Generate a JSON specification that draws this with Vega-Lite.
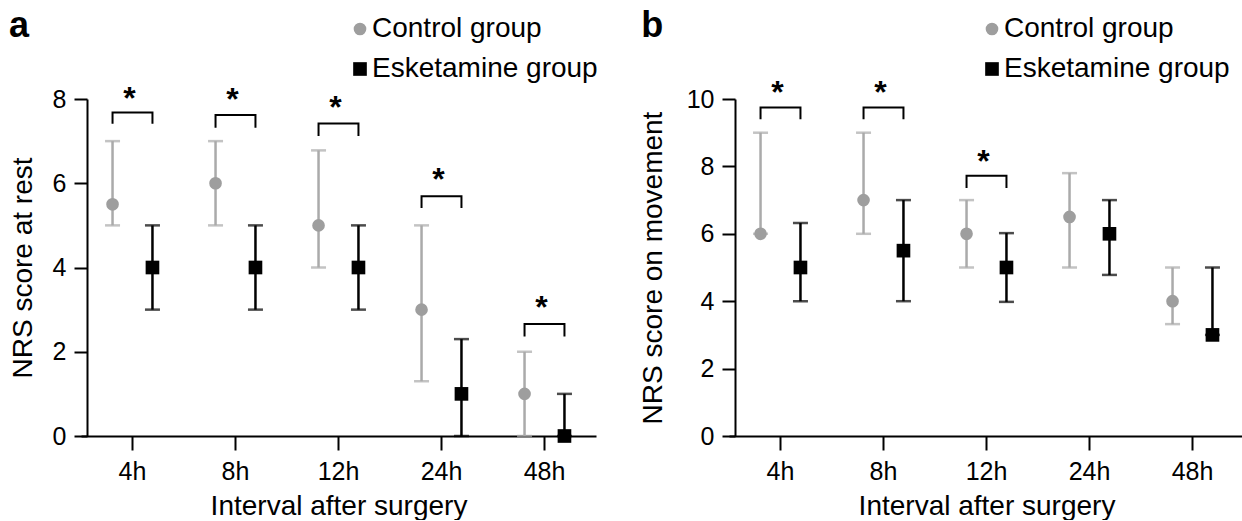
{
  "$schema": "https://vega.github.io/schema/vega-lite/v6.json",
  "background": "white",
  "padding": {"left": 9, "top": 8, "right": 0, "bottom": 0},
  "config": {
    "font": "Liberation Sans",
    "view": {"stroke": null},
    "axis": {"domainColor": "black", "tickColor": "black", "labelColor": "black", "titleColor": "black", "domainWidth": 2, "tickWidth": 2, "labelFontSize": 25, "titleFontSize": 28, "titleFontWeight": "normal", "grid": false},
    "title": {"fontSize": 36, "fontWeight": "bold", "anchor": "start", "color": "black", "frame": "bounds"},
    "legend": {"labelFontSize": 28, "labelColor": "black", "symbolStrokeWidth": 0, "labelLimit": 400},
    "concat": {"spacing": 37}
  },
  "datasets": {
    "stats": [
      {"panel": "a", "time": "4h", "group": "Control group", "median": 5.5, "low": 5, "high": 7},
      {"panel": "a", "time": "8h", "group": "Control group", "median": 6, "low": 5, "high": 7},
      {"panel": "a", "time": "12h", "group": "Control group", "median": 5, "low": 4, "high": 6.78},
      {"panel": "a", "time": "24h", "group": "Control group", "median": 3, "low": 1.3, "high": 5},
      {"panel": "a", "time": "48h", "group": "Control group", "median": 1, "low": 0, "high": 2},
      {"panel": "a", "time": "4h", "group": "Esketamine group", "median": 4, "low": 3, "high": 5},
      {"panel": "a", "time": "8h", "group": "Esketamine group", "median": 4, "low": 3, "high": 5},
      {"panel": "a", "time": "12h", "group": "Esketamine group", "median": 4, "low": 3, "high": 5},
      {"panel": "a", "time": "24h", "group": "Esketamine group", "median": 1, "low": 0, "high": 2.3},
      {"panel": "a", "time": "48h", "group": "Esketamine group", "median": 0, "low": 0, "high": 1},
      {"panel": "b", "time": "4h", "group": "Control group", "median": 6, "low": 6, "high": 9},
      {"panel": "b", "time": "8h", "group": "Control group", "median": 7, "low": 6, "high": 9},
      {"panel": "b", "time": "12h", "group": "Control group", "median": 6, "low": 5, "high": 7},
      {"panel": "b", "time": "24h", "group": "Control group", "median": 6.5, "low": 5, "high": 7.8},
      {"panel": "b", "time": "48h", "group": "Control group", "median": 4, "low": 3.32, "high": 5},
      {"panel": "b", "time": "4h", "group": "Esketamine group", "median": 5, "low": 4, "high": 6.32},
      {"panel": "b", "time": "8h", "group": "Esketamine group", "median": 5.5, "low": 4, "high": 7},
      {"panel": "b", "time": "12h", "group": "Esketamine group", "median": 5, "low": 3.98, "high": 6.02},
      {"panel": "b", "time": "24h", "group": "Esketamine group", "median": 6, "low": 4.78, "high": 7},
      {"panel": "b", "time": "48h", "group": "Esketamine group", "median": 3, "low": 3, "high": 5}
    ],
    "brackets": [
      {"panel": "a", "time": "4h", "group": "Control group", "y": 7.41, "ord": 1},
      {"panel": "a", "time": "4h", "group": "Control group", "y": 7.68, "ord": 2},
      {"panel": "a", "time": "4h", "group": "Esketamine group", "y": 7.68, "ord": 3},
      {"panel": "a", "time": "4h", "group": "Esketamine group", "y": 7.41, "ord": 4},
      {"panel": "a", "time": "8h", "group": "Control group", "y": 7.32, "ord": 1},
      {"panel": "a", "time": "8h", "group": "Control group", "y": 7.62, "ord": 2},
      {"panel": "a", "time": "8h", "group": "Esketamine group", "y": 7.62, "ord": 3},
      {"panel": "a", "time": "8h", "group": "Esketamine group", "y": 7.32, "ord": 4},
      {"panel": "a", "time": "12h", "group": "Control group", "y": 7.12, "ord": 1},
      {"panel": "a", "time": "12h", "group": "Control group", "y": 7.42, "ord": 2},
      {"panel": "a", "time": "12h", "group": "Esketamine group", "y": 7.42, "ord": 3},
      {"panel": "a", "time": "12h", "group": "Esketamine group", "y": 7.12, "ord": 4},
      {"panel": "a", "time": "24h", "group": "Control group", "y": 5.41, "ord": 1},
      {"panel": "a", "time": "24h", "group": "Control group", "y": 5.69, "ord": 2},
      {"panel": "a", "time": "24h", "group": "Esketamine group", "y": 5.69, "ord": 3},
      {"panel": "a", "time": "24h", "group": "Esketamine group", "y": 5.41, "ord": 4},
      {"panel": "a", "time": "48h", "group": "Control group", "y": 2.36, "ord": 1},
      {"panel": "a", "time": "48h", "group": "Control group", "y": 2.66, "ord": 2},
      {"panel": "a", "time": "48h", "group": "Esketamine group", "y": 2.66, "ord": 3},
      {"panel": "a", "time": "48h", "group": "Esketamine group", "y": 2.36, "ord": 4},
      {"panel": "b", "time": "4h", "group": "Control group", "y": 9.4, "ord": 1},
      {"panel": "b", "time": "4h", "group": "Control group", "y": 9.75, "ord": 2},
      {"panel": "b", "time": "4h", "group": "Esketamine group", "y": 9.75, "ord": 3},
      {"panel": "b", "time": "4h", "group": "Esketamine group", "y": 9.4, "ord": 4},
      {"panel": "b", "time": "8h", "group": "Control group", "y": 9.4, "ord": 1},
      {"panel": "b", "time": "8h", "group": "Control group", "y": 9.75, "ord": 2},
      {"panel": "b", "time": "8h", "group": "Esketamine group", "y": 9.75, "ord": 3},
      {"panel": "b", "time": "8h", "group": "Esketamine group", "y": 9.4, "ord": 4},
      {"panel": "b", "time": "12h", "group": "Control group", "y": 7.36, "ord": 1},
      {"panel": "b", "time": "12h", "group": "Control group", "y": 7.72, "ord": 2},
      {"panel": "b", "time": "12h", "group": "Esketamine group", "y": 7.72, "ord": 3},
      {"panel": "b", "time": "12h", "group": "Esketamine group", "y": 7.36, "ord": 4}
    ],
    "stars": [
      {"panel": "a", "time": "4h", "y": 8.2},
      {"panel": "a", "time": "8h", "y": 8.16},
      {"panel": "a", "time": "12h", "y": 7.98},
      {"panel": "a", "time": "24h", "y": 6.27},
      {"panel": "a", "time": "48h", "y": 3.24},
      {"panel": "b", "time": "4h", "y": 10.42},
      {"panel": "b", "time": "8h", "y": 10.42},
      {"panel": "b", "time": "12h", "y": 8.38}
    ]
  },
  "resolve": {"scale": {"x": "independent", "y": "independent", "color": "independent", "shape": "independent"}, "legend": {"color": "independent", "shape": "independent"}},
  "hconcat": [
    {
      "width": 503,
      "height": 337,
      "title": {"text": "a", "offset": -30},
      "layer": [
        {
          "data": {"name": "stats"},
          "transform": [{"filter": "datum.panel === 'a'"}],
          "mark": {"type": "rule", "strokeWidth": 2.5},
          "encoding": {
            "x": {"field": "time", "type": "nominal", "sort": ["4h", "8h", "12h", "24h", "48h"], "scale": {"paddingInner": 0, "paddingOuter": 0, "range": [-6, 509]}, "axis": {"title": "Interval after surgery", "labelAngle": 0, "tickSize": 14, "labelPadding": 9, "titlePadding": 8}},
            "xOffset": {"field": "group", "type": "nominal", "scale": {"domain": ["Control group", "Esketamine group"], "paddingOuter": 0.29, "paddingInner": 0}},
            "y": {"field": "low", "type": "quantitative", "scale": {"domain": [0, 8], "nice": false}, "axis": {"title": "NRS score at rest", "values": [0, 2, 4, 6, 8], "tickSize": 13, "labelPadding": 8, "titlePadding": 15}},
            "y2": {"field": "high"},
            "stroke": {"field": "group", "type": "nominal", "scale": {"domain": ["Control group", "Esketamine group"], "range": ["#aaaaaa", "#000000"]}, "legend": null}
          }
        },
        {
          "data": {"name": "stats"},
          "transform": [{"filter": "datum.panel === 'a'"}],
          "mark": {"type": "tick", "size": 15, "thickness": 2.5, "orient": "horizontal"},
          "encoding": {
            "x": {"field": "time", "type": "nominal", "sort": ["4h", "8h", "12h", "24h", "48h"]},
            "xOffset": {"field": "group", "type": "nominal"},
            "y": {"field": "low", "type": "quantitative"},
            "fill": {"field": "group", "type": "nominal", "scale": {"domain": ["Control group", "Esketamine group"], "range": ["#aaaaaa", "#000000"]}, "legend": null}
          }
        },
        {
          "data": {"name": "stats"},
          "transform": [{"filter": "datum.panel === 'a'"}],
          "mark": {"type": "tick", "size": 15, "thickness": 2.5, "orient": "horizontal"},
          "encoding": {
            "x": {"field": "time", "type": "nominal", "sort": ["4h", "8h", "12h", "24h", "48h"]},
            "xOffset": {"field": "group", "type": "nominal"},
            "y": {"field": "high", "type": "quantitative"},
            "fill": {"field": "group", "type": "nominal", "legend": null}
          }
        },
        {
          "data": {"name": "stats"},
          "transform": [{"filter": "datum.panel === 'a'"}],
          "mark": {"type": "point", "filled": true, "size": 160, "opacity": 1},
          "encoding": {
            "x": {"field": "time", "type": "nominal", "sort": ["4h", "8h", "12h", "24h", "48h"]},
            "xOffset": {"field": "group", "type": "nominal"},
            "y": {"field": "median", "type": "quantitative"},
            "color": {"field": "group", "type": "nominal", "scale": {"domain": ["Control group", "Esketamine group"], "range": ["#9e9e9e", "#000000"]}, "legend": {"title": null, "orient": "none", "legendX": 259, "legendY": -84, "direction": "vertical", "symbolSize": 160, "rowPadding": 12, "labelOffset": -2, "padding": 0}},
            "shape": {"field": "group", "type": "nominal", "scale": {"domain": ["Control group", "Esketamine group"], "range": ["circle", "M-1.08,-1.08H1.08V1.08H-1.08Z"]}, "legend": {"title": null, "orient": "none", "legendX": 259, "legendY": -84, "direction": "vertical", "symbolSize": 160, "rowPadding": 12, "labelOffset": -2, "padding": 0}}
          }
        },
        {
          "data": {"name": "brackets"},
          "transform": [{"filter": "datum.panel === 'a'"}],
          "mark": {"type": "line", "color": "black", "strokeWidth": 2},
          "encoding": {
            "x": {"field": "time", "type": "nominal", "sort": ["4h", "8h", "12h", "24h", "48h"]},
            "xOffset": {"field": "group", "type": "nominal"},
            "y": {"field": "y", "type": "quantitative"},
            "detail": {"field": "time"},
            "order": {"field": "ord", "type": "quantitative"}
          }
        },
        {
          "data": {"name": "stars"},
          "transform": [{"filter": "datum.panel === 'a'"}],
          "mark": {"type": "text", "text": "*", "fontSize": 32, "fontWeight": "bold", "baseline": "middle", "dy": 8, "dx": -3, "color": "black"},
          "encoding": {
            "x": {"field": "time", "type": "nominal", "sort": ["4h", "8h", "12h", "24h", "48h"]},
            "y": {"field": "y", "type": "quantitative"}
          }
        }
      ]
    },
    {
      "width": 503,
      "height": 337,
      "title": {"text": "b", "offset": -30, "dx": 2},
      "layer": [
        {
          "data": {"name": "stats"},
          "transform": [{"filter": "datum.panel === 'b'"}],
          "mark": {"type": "rule", "strokeWidth": 2.5},
          "encoding": {
            "x": {"field": "time", "type": "nominal", "sort": ["4h", "8h", "12h", "24h", "48h"], "scale": {"paddingInner": 0, "paddingOuter": 0, "range": [-6, 509]}, "axis": {"title": "Interval after surgery", "labelAngle": 0, "tickSize": 14, "labelPadding": 9, "titlePadding": 8}},
            "xOffset": {"field": "group", "type": "nominal", "scale": {"domain": ["Control group", "Esketamine group"], "paddingOuter": 0.29, "paddingInner": 0}},
            "y": {"field": "low", "type": "quantitative", "scale": {"domain": [0, 10], "nice": false}, "axis": {"title": "NRS score on movement", "values": [0, 2, 4, 6, 8, 10], "tickSize": 13, "labelPadding": 8, "titlePadding": 19}},
            "y2": {"field": "high"},
            "stroke": {"field": "group", "type": "nominal", "scale": {"domain": ["Control group", "Esketamine group"], "range": ["#aaaaaa", "#000000"]}, "legend": null}
          }
        },
        {
          "data": {"name": "stats"},
          "transform": [{"filter": "datum.panel === 'b'"}],
          "mark": {"type": "tick", "size": 15, "thickness": 2.5, "orient": "horizontal"},
          "encoding": {
            "x": {"field": "time", "type": "nominal", "sort": ["4h", "8h", "12h", "24h", "48h"]},
            "xOffset": {"field": "group", "type": "nominal"},
            "y": {"field": "low", "type": "quantitative"},
            "fill": {"field": "group", "type": "nominal", "scale": {"domain": ["Control group", "Esketamine group"], "range": ["#aaaaaa", "#000000"]}, "legend": null}
          }
        },
        {
          "data": {"name": "stats"},
          "transform": [{"filter": "datum.panel === 'b'"}],
          "mark": {"type": "tick", "size": 15, "thickness": 2.5, "orient": "horizontal"},
          "encoding": {
            "x": {"field": "time", "type": "nominal", "sort": ["4h", "8h", "12h", "24h", "48h"]},
            "xOffset": {"field": "group", "type": "nominal"},
            "y": {"field": "high", "type": "quantitative"},
            "fill": {"field": "group", "type": "nominal", "legend": null}
          }
        },
        {
          "data": {"name": "stats"},
          "transform": [{"filter": "datum.panel === 'b'"}],
          "mark": {"type": "point", "filled": true, "size": 160, "opacity": 1},
          "encoding": {
            "x": {"field": "time", "type": "nominal", "sort": ["4h", "8h", "12h", "24h", "48h"]},
            "xOffset": {"field": "group", "type": "nominal"},
            "y": {"field": "median", "type": "quantitative"},
            "color": {"field": "group", "type": "nominal", "scale": {"domain": ["Control group", "Esketamine group"], "range": ["#9e9e9e", "#000000"]}, "legend": {"title": null, "orient": "none", "legendX": 243, "legendY": -84, "direction": "vertical", "symbolSize": 160, "rowPadding": 12, "labelOffset": -2, "padding": 0}},
            "shape": {"field": "group", "type": "nominal", "scale": {"domain": ["Control group", "Esketamine group"], "range": ["circle", "M-1.08,-1.08H1.08V1.08H-1.08Z"]}, "legend": {"title": null, "orient": "none", "legendX": 243, "legendY": -84, "direction": "vertical", "symbolSize": 160, "rowPadding": 12, "labelOffset": -2, "padding": 0}}
          }
        },
        {
          "data": {"name": "brackets"},
          "transform": [{"filter": "datum.panel === 'b'"}],
          "mark": {"type": "line", "color": "black", "strokeWidth": 2},
          "encoding": {
            "x": {"field": "time", "type": "nominal", "sort": ["4h", "8h", "12h", "24h", "48h"]},
            "xOffset": {"field": "group", "type": "nominal"},
            "y": {"field": "y", "type": "quantitative"},
            "detail": {"field": "time"},
            "order": {"field": "ord", "type": "quantitative"}
          }
        },
        {
          "data": {"name": "stars"},
          "transform": [{"filter": "datum.panel === 'b'"}],
          "mark": {"type": "text", "text": "*", "fontSize": 32, "fontWeight": "bold", "baseline": "middle", "dy": 8, "dx": -3, "color": "black"},
          "encoding": {
            "x": {"field": "time", "type": "nominal", "sort": ["4h", "8h", "12h", "24h", "48h"]},
            "y": {"field": "y", "type": "quantitative"}
          }
        }
      ]
    }
  ]
}
